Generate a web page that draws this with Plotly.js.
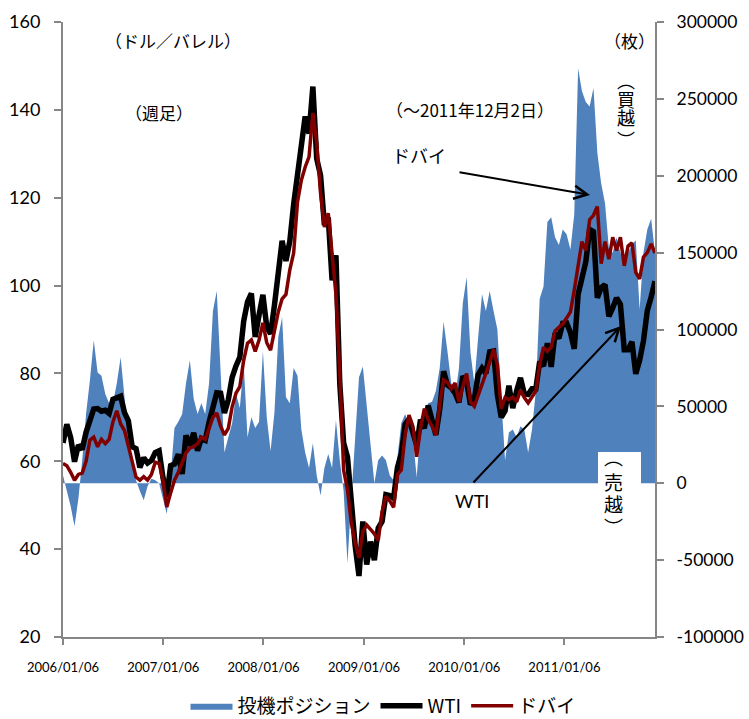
<!DOCTYPE html>
<html>
<head>
<meta charset="utf-8">
<script src="https://cdn.plot.ly/plotly-3.0.1.min.js"></script>
<style>html,body{margin:0;padding:0;background:#fff;}</style>
</head>
<body>
<div id="chart" style="width:749px;height:719px;"></div>
<script>
// Weekly series sampled every two weeks, 2006/01/06 - 2011/12/02
const startDate = '2006-01-06';
const stepDays = 14;
const nPoints = 155;

const wti = [64.2,68.4,65.4,59.9,63.7,62.7,66.6,69.3,71.9,72.0,71.4,71.6,70.9,74.1,74.3,74.8,71.1,69.2,63.3,62.9,58.6,60.8,59.6,60.2,62.0,62.4,
56.3,52.0,59.0,59.4,61.6,57.1,65.9,63.6,66.5,62.4,65.2,64.8,68.9,72.8,75.6,75.5,71.0,74.0,79.1,81.7,83.7,91.9,96.3,98.2,88.3,93.3,
97.9,90.6,89.0,95.5,101.8,110.2,105.6,110.1,118.5,126.0,132.2,138.5,134.6,145.3,128.9,125.1,113.8,115.5,101.2,106.9,77.7,64.2,61.0,49.9,40.8,33.9,
46.3,36.5,41.7,37.5,44.8,46.3,52.4,52.2,51.6,58.6,61.7,68.4,69.6,66.7,63.6,69.5,67.5,72.7,69.3,66.0,71.8,80.5,77.4,76.7,75.5,73.4,
79.4,78.0,72.9,74.1,79.7,81.2,80.0,84.9,85.1,75.1,70.0,71.5,77.2,72.1,76.0,79.0,75.4,75.2,76.5,76.5,82.7,81.7,86.9,81.5,89.2,88.0,91.4,
91.5,89.3,85.6,98.0,101.2,105.4,112.8,112.3,97.2,99.5,100.2,93.0,94.9,97.2,95.7,85.4,85.4,87.2,79.9,83.0,87.4,94.3,97.4,101.0];

const dubai = [59.5,59,57.5,55.7,57,57.3,60,64.8,65.5,63.3,65,64,65,69,71.5,68.5,67,63.5,59.5,56.4,55.7,56.5,55.7,57,59.8,59.5,
55.7,49.6,52.8,55.7,57.5,59.5,61.9,63,63.3,64,65.5,65,67.5,70,71,68,66,67.5,72.4,75.5,77,83,86.9,87.6,85,87.6,
91.5,87,85.3,89.9,94,97,98,103.6,107.4,119,124,127,129.3,139.3,132.4,121,113.3,116.5,108,98,80,58,53.5,46,41.4,38,
44,45.5,44.5,43.5,42,48.5,52,51,49.5,57,58,66,70.5,68,61,67.5,72,69.5,68,66,73,78.5,78,76.5,77.8,73.5,
77,80,73.5,72.5,75,77.8,80,82.5,85.5,82,72,74.5,74,74.6,73.5,76.2,74.5,73.3,74.5,76,82,86,85,86,89.7,90.5,91.3,
92.6,94,99,104,110,108,115,116,118,105,110,106,111,108,111,104.5,109,109.7,103,101.5,106.5,107.5,109.5,107.4];

const position = [5000,-5000,-15000,-28000,-10000,15000,45000,67000,93000,72000,70000,58000,52000,52000,65000,82000,55000,30000,12000,2000,-5000,-11000,-2000,3000,2000,0,
-10000,-20000,5000,36000,40000,45000,65000,80000,55000,45000,52000,45000,65000,112000,125000,70000,20000,30000,39000,58000,49000,78000,30000,43000,36000,40000,
86000,43000,21000,46000,95000,108000,56000,52000,75000,70000,35000,20000,10000,26000,5000,-8000,10000,19000,10000,41000,15000,-5000,-52000,-10000,30000,69000,
76000,50000,25000,0,15000,18000,15000,5000,2000,17000,39000,45000,37000,30000,4000,35000,45000,52000,53000,60000,75000,105000,86000,65000,56000,75000,
117000,134000,85000,65000,95000,123000,112000,125000,112000,100000,55000,15000,33000,35000,30000,37000,35000,20000,35000,60000,120000,128000,170000,173000,160000,155000,165000,
162000,152000,175000,270000,255000,248000,245000,257000,215000,195000,182000,153000,150000,160000,150000,142000,150000,155000,158000,113000,150000,165000,172000,150000];

const xTickVals = ['2006-01-06','2007-01-06','2008-01-06','2009-01-06','2010-01-06','2011-01-06'];
const xTickText = ['2006/01/06','2007/01/06','2008/01/06','2009/01/06','2010/01/06','2011/01/06'];
const rightTickVals = [-100000,-50000,0,50000,100000,150000,200000,250000,300000];
const rightTickText = ['-100000','-50000','0','50000','100000','150000','200000','250000','300000'];
const seriesNames = ['投機ポジション','WTI','ドバイ'];

const dates = [];
{
  const t0 = Date.parse(startDate + 'T00:00:00Z');
  for (let i = 0; i < nPoints; i++) {
    dates.push(new Date(t0 + i * stepDays * 86400000).toISOString().slice(0,10));
  }
}

const gray = '#868686';
const tickFont = {family: 'Lato, "Liberation Sans", sans-serif', size: 18, color: '#000'};
const jp = '"Noto Sans CJK JP", sans-serif';

const traces = [
  {x: dates, y: position, type: 'scatter', mode: 'lines', name: seriesNames[0],
   fill: 'tozeroy', fillcolor: '#4F81BD', line: {width: 0, color: '#4F81BD'}, yaxis: 'y', hoverinfo: 'skip'},
  {x: dates, y: wti, type: 'scatter', mode: 'lines', name: seriesNames[1],
   line: {width: 5.5, color: '#000000'}, yaxis: 'y2'},
  {x: dates, y: dubai, type: 'scatter', mode: 'lines', name: seriesNames[2],
   line: {width: 3.5, color: '#800000'}, yaxis: 'y2'}
];

function px2x(p) { return (p - 63) / 592; }
function px2y(p) { return (637 - p) / 615; }

const ann = [];
function txt(t, xp, yp, size, fam) {
  ann.push({text: t, xref: 'paper', yref: 'paper', x: px2x(xp), y: px2y(yp), showarrow: false,
            xanchor: 'center', yanchor: 'middle', font: {family: fam || jp, size: size || 17, color: '#000'}});
}
txt('（ドル／バレル）', 173, 40);
txt('（週足）', 159, 112);
txt('（～2011年12月2日）', 470, 110);
txt('（枚）', 629, 40);
txt('︵', 626, 80, 18); txt('買', 626, 99, 18); txt('越', 626, 117, 18); txt('︶', 626, 139, 18);
txt('︵', 613, 456, 19); txt('売', 613, 481, 19); txt('越', 613, 503, 19); txt('︶', 613, 526, 19);
txt('ドバイ', 419, 155, 18);
txt('WTI', 472, 501, 18, 'Lato, sans-serif');
// arrows
ann.push({text: '', xref: 'paper', yref: 'paper', x: px2x(590), y: px2y(195), ax: -132, ay: -23,
          showarrow: true, arrowhead: 5, arrowsize: 1.3, arrowwidth: 2, arrowcolor: '#000', standoff: 0});
ann.push({text: '', xref: 'paper', yref: 'paper', x: px2x(621), y: px2y(326), ax: -149, ay: 158,
          showarrow: true, arrowhead: 5, arrowsize: 1.3, arrowwidth: 2, arrowcolor: '#000', standoff: 0});

const layout = {
  width: 749, height: 719,
  margin: {l: 63, r: 94, t: 22, b: 82, autoexpand: false},
  paper_bgcolor: '#fff', plot_bgcolor: '#fff',
  showlegend: true,
  legend: {orientation: 'h', x: px2x(383), xanchor: 'center', y: px2y(706), yanchor: 'middle',
           font: {family: jp, size: 19, color: '#000'}, itemwidth: 42, traceorder: 'normal'},
  xaxis: {type: 'date', range: ['2006-01-06', '2011-12-02'], tickmode: 'array', tickvals: xTickVals, ticktext: xTickText,
          ticks: 'outside', ticklen: 6, tickwidth: 2, tickcolor: gray, showline: true, linecolor: gray, linewidth: 2,
          showgrid: false, zeroline: false, ticklabelstandoff: 11,
          tickfont: {family: 'Lato, sans-serif', size: 13, color: '#000'}},
  yaxis: {range: [-100000, 300000], side: 'right', tickmode: 'array', tickvals: rightTickVals, ticktext: rightTickText,
          ticks: 'outside', ticklen: 7, tickwidth: 2, tickcolor: gray, showline: true, linecolor: gray, linewidth: 2,
          showgrid: false, zeroline: false, tickfont: {family: 'Lato, sans-serif', size: 17.5, color: '#000'}, ticklabelstandoff: 9},
  yaxis2: {range: [20, 160], dtick: 20, overlaying: 'y', side: 'left',
           ticks: 'outside', ticklen: 7, tickwidth: 2, tickcolor: gray, showline: true, linecolor: gray, linewidth: 2,
           showgrid: false, zeroline: false, tickfont: tickFont, ticklabelstandoff: 10},
  shapes: [{type: 'rect', xref: 'paper', yref: 'paper', x0: px2x(598), x1: px2x(641), y0: px2y(484), y1: px2y(452),
            fillcolor: '#fff', line: {width: 0}}],
  annotations: ann
};

Plotly.newPlot('chart', traces, layout, {displayModeBar: false, staticPlot: true});
</script>
</body>
</html>
